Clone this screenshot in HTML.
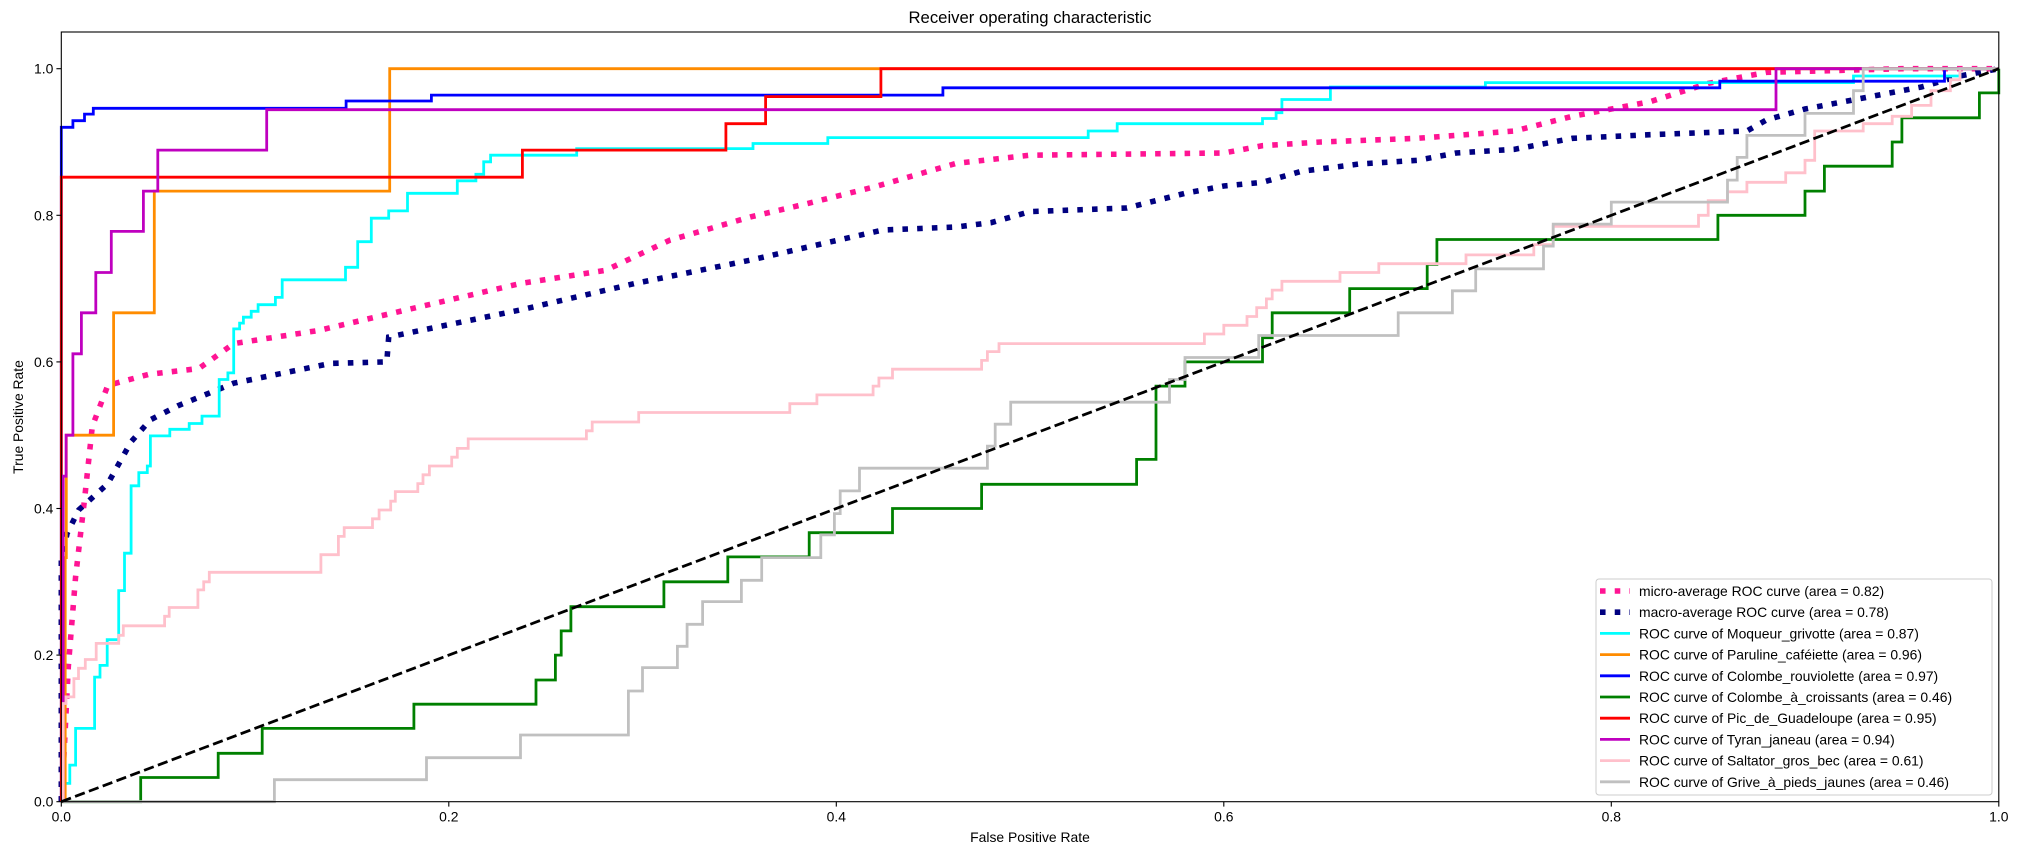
<!DOCTYPE html>
<html><head><meta charset="utf-8"><style>
html,body{margin:0;padding:0;background:#fff;}
svg{display:block;font-family:"Liberation Sans","DejaVu Sans",sans-serif;}
</style></head><body>
<svg id="s" width="2019" height="855" viewBox="0 0 2019 855" xmlns="http://www.w3.org/2000/svg">
<rect width="2019" height="855" fill="#fff"/>
<g id="plot"></g>
<rect x="61.3" y="32" width="1937.5" height="769.7" fill="none" stroke="#000" stroke-width="1.1"/>
<g id="ticks" font-size="13.9" fill="#000"></g>
<text x="1030" y="23" font-size="16.7" text-anchor="middle">Receiver operating characteristic</text>
<text x="1030" y="842" font-size="13.9" text-anchor="middle">False Positive Rate</text>
<text x="23" y="417" font-size="13.9" text-anchor="middle" transform="rotate(-90 23 417)">True Positive Rate</text>
<g id="legend"></g>
</svg>
<script>
var X0=61.3,XW=1937.5,Y0=801.7,YH=733;
function px(x){return X0+x*XW;} function py(y){return Y0-y*YH;}
function path(pts){return pts.map(function(p,i){return (i?'L':'M')+px(p[0]).toFixed(1)+' '+py(p[1]).toFixed(1);}).join(' ');}
function steps(start,arr){ // arr: list of [x,ynew]
  var pts=[start],cy=start[1];
  arr.forEach(function(a){pts.push([a[0],cy]);pts.push([a[0],a[1]]);cy=a[1];});
  return pts;}
var NS='http://www.w3.org/2000/svg';
function add(par,tag,attrs,txt){var e=document.createElementNS(NS,tag);for(var k in attrs)e.setAttribute(k,attrs[k]);if(txt!=null)e.textContent=txt;par.appendChild(e);return e;}
var plot=document.getElementById('plot');
var series=[];
series.push({c:'#ff1493',w:5.56,d:'5.56 9.17',pts:[[0,0],[0.0015,0.07],[0.0036,0.184],[0.0074,0.307],[0.012,0.412],[0.016,0.512],[0.024,0.568],[0.045,0.583],[0.071,0.591],[0.089,0.625],[0.133,0.643],[0.178,0.671],[0.237,0.707],[0.281,0.725],[0.314,0.766],[0.356,0.798],[0.385,0.816],[0.42,0.839],[0.462,0.871],[0.5,0.882],[0.6,0.885],[0.62,0.895],[0.65,0.9],[0.7,0.905],[0.75,0.915],[0.78,0.935],[0.82,0.955],[0.85,0.98],[0.88,0.995],[0.95,1],[1,1]]});
series.push({c:'#000080',w:5.56,d:'5.56 9.17',pts:[[0,0],[0,0.33],[0.003,0.366],[0.009,0.398],[0.024,0.434],[0.036,0.491],[0.046,0.521],[0.06,0.54],[0.089,0.571],[0.139,0.598],[0.168,0.6],[0.169,0.634],[0.237,0.671],[0.296,0.707],[0.356,0.739],[0.394,0.762],[0.424,0.78],[0.462,0.784],[0.48,0.79],[0.5,0.805],[0.55,0.81],[0.58,0.83],[0.6,0.84],[0.62,0.845],[0.64,0.86],[0.67,0.87],[0.7,0.875],[0.72,0.885],[0.75,0.89],[0.78,0.905],[0.82,0.91],[0.87,0.915],[0.88,0.93],[0.9,0.945],[0.93,0.96],[0.96,0.975],[0.98,0.99],[1,1]]});
series.push({c:'#00ffff',w:2.78,pts:steps([0.0015,0],[[0.0015,0.025],[0.0044,0.05],[0.0074,0.1],[0.0172,0.17],[0.02,0.186],[0.0237,0.221],[0.0296,0.288],[0.0326,0.339],[0.036,0.431],[0.04,0.449],[0.0444,0.458],[0.046,0.499],[0.056,0.508],[0.066,0.516],[0.0726,0.526],[0.0815,0.576],[0.086,0.585],[0.089,0.645],[0.092,0.653],[0.094,0.661],[0.098,0.669],[0.1016,0.678],[0.1105,0.688],[0.114,0.712],[0.1467,0.729],[0.153,0.764],[0.16,0.796],[0.169,0.806],[0.1787,0.83],[0.2044,0.847],[0.214,0.856],[0.218,0.873],[0.2216,0.882],[0.266,0.891],[0.357,0.898],[0.3956,0.906],[0.53,0.915],[0.545,0.925],[0.62,0.932],[0.627,0.94],[0.63,0.958],[0.655,0.975],[0.735,0.981],[0.925,0.99],[0.98,1],[1,1]])});
series.push({c:'#ff8c00',w:2.78,pts:steps([0.002,0],[[0.002,0.333],[0.0026,0.5],[0.027,0.667],[0.048,0.833],[0.1695,1],[1,1]])});
series.push({c:'#0000ff',w:2.78,pts:steps([0,0],[[0,0.92],[0.006,0.929],[0.012,0.938],[0.0165,0.946],[0.147,0.956],[0.191,0.964],[0.455,0.974],[0.856,0.983],[0.972,1],[1,1]])});
series.push({c:'#008000',w:2.78,pts:steps([0,0],[[0.041,0.033],[0.081,0.066],[0.1037,0.1],[0.182,0.133],[0.245,0.166],[0.255,0.2],[0.258,0.233],[0.263,0.266],[0.311,0.3],[0.344,0.334],[0.386,0.367],[0.429,0.4],[0.475,0.433],[0.555,0.467],[0.565,0.567],[0.58,0.6],[0.62,0.633],[0.625,0.667],[0.665,0.7],[0.705,0.733],[0.71,0.767],[0.855,0.8],[0.9,0.833],[0.91,0.867],[0.945,0.9],[0.95,0.933],[0.99,0.967],[1,1]])});
series.push({c:'#ff0000',w:2.78,pts:steps([0,0],[[0,0.852],[0.238,0.889],[0.343,0.925],[0.3635,0.962],[0.423,1],[1,1]])});
series.push({c:'#bf00bf',w:2.78,pts:steps([0.001,0],[[0.001,0.444],[0.0025,0.5],[0.006,0.611],[0.0104,0.667],[0.0178,0.722],[0.0258,0.778],[0.0424,0.833],[0.0498,0.889],[0.106,0.944],[0.885,1],[1,1]])});
series.push({c:'#ffc0cb',w:2.78,pts:steps([0.001,0],[[0.001,0.134],[0.0024,0.143],[0.0065,0.168],[0.0089,0.182],[0.0124,0.194],[0.018,0.216],[0.0296,0.227],[0.032,0.24],[0.0533,0.253],[0.0557,0.265],[0.0705,0.289],[0.0735,0.3],[0.0764,0.313],[0.134,0.337],[0.143,0.362],[0.146,0.374],[0.1606,0.386],[0.164,0.398],[0.17,0.41],[0.1724,0.423],[0.184,0.434],[0.1867,0.446],[0.19,0.458],[0.2015,0.47],[0.2044,0.482],[0.21,0.495],[0.271,0.506],[0.274,0.518],[0.298,0.531],[0.376,0.543],[0.39,0.555],[0.419,0.567],[0.422,0.578],[0.429,0.59],[0.475,0.602],[0.478,0.614],[0.484,0.625],[0.59,0.638],[0.6,0.65],[0.612,0.662],[0.617,0.674],[0.622,0.686],[0.625,0.698],[0.63,0.71],[0.66,0.722],[0.68,0.734],[0.725,0.746],[0.76,0.76],[0.77,0.785],[0.845,0.8],[0.85,0.82],[0.86,0.832],[0.87,0.845],[0.89,0.858],[0.9,0.875],[0.905,0.915],[0.93,0.925],[0.945,0.935],[0.955,0.95],[0.965,0.97],[0.975,0.985],[0.98,1],[1,1]])});
series.push({c:'#c0c0c0',w:2.78,pts:steps([0,0],[[0.11,0.03],[0.1885,0.06],[0.237,0.091],[0.2927,0.151],[0.3,0.183],[0.318,0.212],[0.323,0.242],[0.331,0.273],[0.351,0.302],[0.3615,0.333],[0.392,0.364],[0.399,0.393],[0.402,0.424],[0.412,0.455],[0.478,0.485],[0.482,0.515],[0.49,0.545],[0.572,0.576],[0.58,0.606],[0.618,0.636],[0.69,0.667],[0.718,0.697],[0.73,0.727],[0.765,0.758],[0.77,0.788],[0.8,0.818],[0.86,0.848],[0.865,0.879],[0.87,0.909],[0.9,0.939],[0.925,0.97],[0.93,1],[1,1]])});
series.forEach(function(s){var a={d:path(s.pts),fill:'none',stroke:s.c,'stroke-width':s.w,'stroke-linejoin':'miter'};if(s.d){a['stroke-dasharray']=s.d;}add(plot,'path',a);});
add(plot,'path',{d:path([[0,0],[1,1]]),fill:'none',stroke:'#000','stroke-width':2.78,'stroke-dasharray':'10.3 4.45'});
var tk=document.getElementById('ticks');
for(var i=0;i<=5;i++){var v=i*0.2,l=v.toFixed(1);
 add(tk,'line',{x1:px(v),x2:px(v),y1:Y0,y2:Y0+4.9,stroke:'#000','stroke-width':1.1});
 add(tk,'text',{x:px(v),y:Y0+20,'text-anchor':'middle'},l);
 add(tk,'line',{x1:X0-4.9,x2:X0,y1:py(v),y2:py(v),stroke:'#000','stroke-width':1.1});
 add(tk,'text',{x:X0-8,y:py(v)+5,'text-anchor':'end'},l);}
var lg=document.getElementById('legend');
add(lg,'rect',{x:1596,y:579,width:396,height:216,rx:3,fill:'#fff','fill-opacity':0.8,stroke:'#cccccc','stroke-width':1});
var labels=['micro-average ROC curve (area = 0.82)','macro-average ROC curve (area = 0.78)','ROC curve of Moqueur_grivotte (area = 0.87)','ROC curve of Paruline_caféiette (area = 0.96)','ROC curve of Colombe_rouviolette (area = 0.97)','ROC curve of Colombe_à_croissants (area = 0.46)','ROC curve of Pic_de_Guadeloupe (area = 0.95)','ROC curve of Tyran_janeau (area = 0.94)','ROC curve of Saltator_gros_bec (area = 0.61)','ROC curve of Grive_à_pieds_jaunes (area = 0.46)'];
labels.forEach(function(t,i){var y=591+i*21.2,s=series[i];
 var a={x1:1600,x2:1630,y1:y,y2:y,stroke:s.c,'stroke-width':s.w};if(s.d)a['stroke-dasharray']=s.d;
 add(lg,'line',a);
 add(lg,'text',{x:1639,y:y+5,'font-size':13.9},t);});
</script>
</body></html>
